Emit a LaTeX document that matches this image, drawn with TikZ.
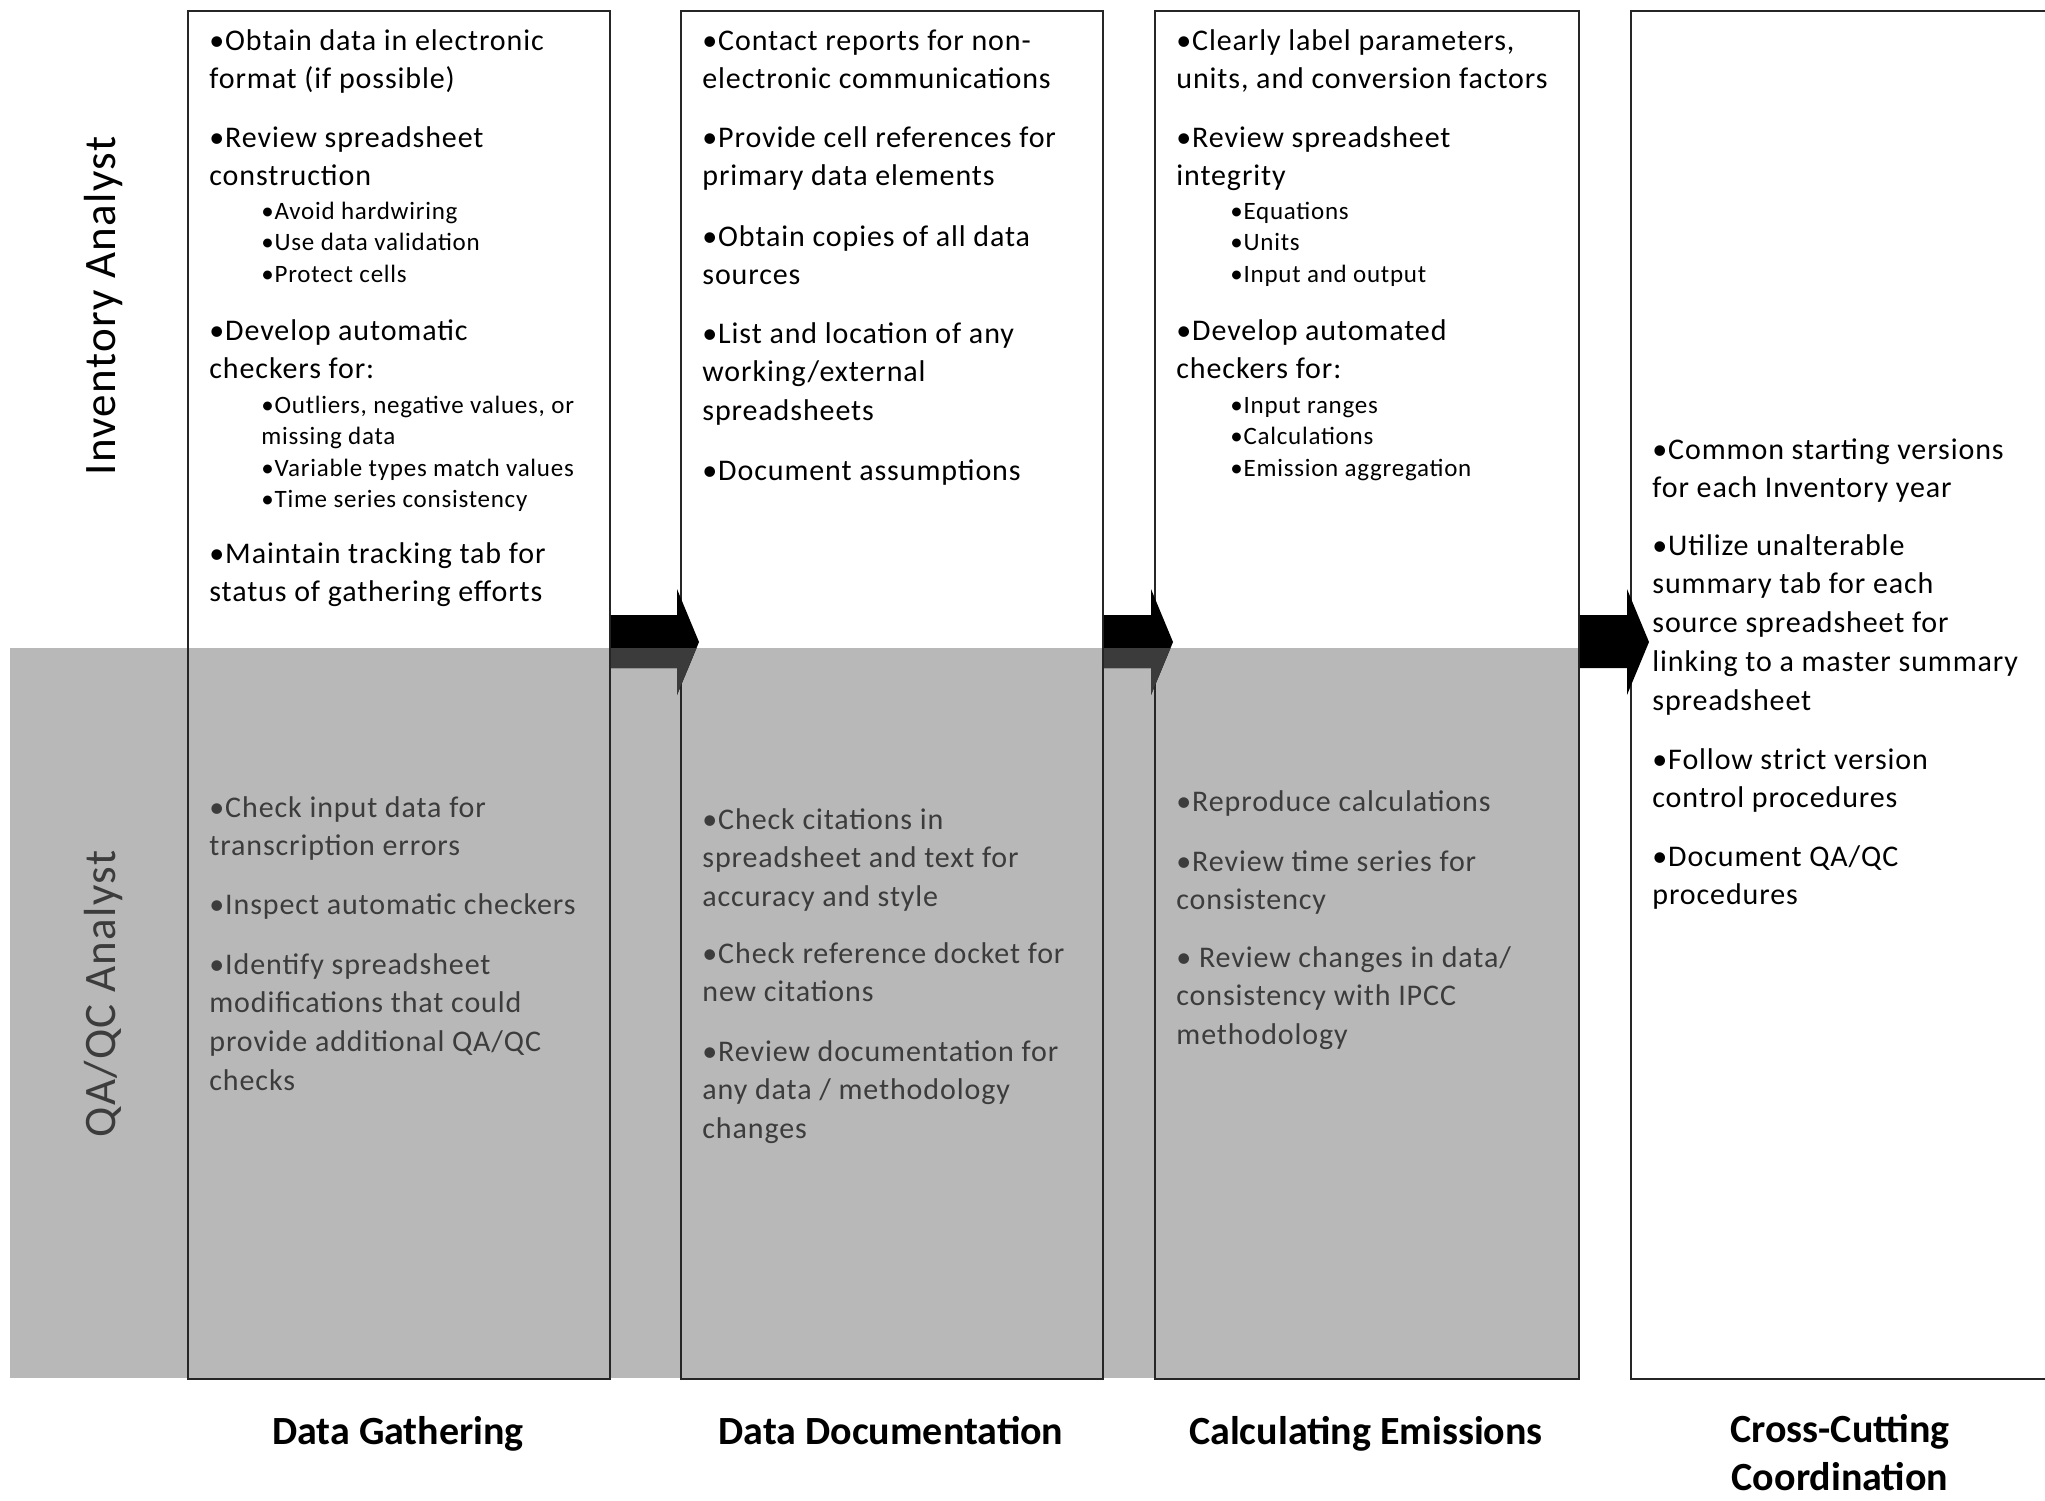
\documentclass[tikz,border=0pt]{standalone}
\usepackage{fontspec}
\setmainfont{Carlito}
\newfontfamily\bodyfont{Carlito}[LetterSpace=3.0]
\usetikzlibrary{calc}
\definecolor{band}{HTML}{B8B8B8}
\definecolor{dtext}{HTML}{3C3C3C}
\definecolor{darr}{HTML}{3B3B3B}
\newcommand\mylines[1]{\parbox[t]{12cm}{\raggedright #1}}
\tikzset{
  itm/.style={anchor=base west, inner sep=0pt, yshift=-1pt, font=\bodyfont\fontsize{15}{19.4}\selectfont},
  subitm/.style={anchor=base west, inner sep=0pt, yshift=-1pt, font=\bodyfont\fontsize{12.5}{15.8}\selectfont},
  lowtxt/.style={text=dtext},
  colbox/.style={draw=black!85, line width=0.9pt, anchor=north west, inner sep=0pt, minimum height=684pt},
  phase/.style={anchor=base, inner sep=0pt, font=\fontsize{20}{24}\selectfont\bfseries},
  role/.style={rotate=90, inner sep=0pt, font=\bodyfont\fontsize{22.5}{26}\selectfont},
}
\begin{document}
\begin{tikzpicture}[x=0.5pt,y=-0.5pt]
\useasboundingbox (0,0) rectangle (2045,1500);
\fill[white] (0,0) rectangle (2045,1500);
% gray band
\fill[band] (10,648) rectangle (1578,1378);
% boxes
\node[colbox, minimum width=211pt] (b1) at (187,10) {};
\node[colbox, minimum width=211pt] (b2) at (680,10) {};
\node[colbox, minimum width=212pt] (b3) at (1154,10) {};
\node[colbox, minimum width=215pt, fill=white] (b4) at (1630,10) {};
% block arrows
\newcommand\blockarrow[2]{%
  \fill (#1.east |- 0,615) -- ([xshift=-1.5pt]#2.west |- 0,615) -- ([xshift=-1.5pt]#2.west |- 0,589)
    -- ([xshift=9.5pt]#2.west |- 0,642) -- ([xshift=-1.5pt]#2.west |- 0,695)
    -- ([xshift=-1.5pt]#2.west |- 0,668) -- (#1.east |- 0,668) -- cycle;}
\blockarrow{b1}{b2}
\blockarrow{b2}{b3}
\blockarrow{b3}{b4}
\begin{scope}
  \clip (10,648) rectangle (1578,1378);
  \begin{scope}[darr]
  \blockarrow{b1}{b2}
  \blockarrow{b2}{b3}
  \end{scope}
\end{scope}
% role labels
\node[role] (r1) at (104,306) {Inventory Analyst};
\node[role, text=dtext] (r2) at (104,994) {QA/QC Analyst};
% box 1 top
\node[itm] (t11) at (209,48) {\mylines{•Obtain data in electronic\\format (if possible)}};
\node[itm] (t12) at (209,145) {\mylines{•Review spreadsheet\\construction}};
\node[subitm] (t13) at (261,217) {\mylines{•Avoid hardwiring\\•Use data validation\\•Protect cells}};
\node[itm] (t14) at (209,338) {\mylines{•Develop automatic\\checkers for:}};
\node[subitm] (t15) at (261,411) {\mylines{•Outliers, negative values, or\\missing data\\•Variable types match values\\•Time series consistency}};
\node[itm] (t16) at (209,561) {\mylines{•Maintain tracking tab for\\status of gathering efforts}};
% box 1 bottom
\node[itm, lowtxt] (l11) at (209,815) {\mylines{•Check input data for\\transcription errors}};
\node[itm, lowtxt] (l12) at (209,912) {\mylines{•Inspect automatic checkers}};
\node[itm, lowtxt] (l13) at (209,972) {\mylines{•Identify spreadsheet\\modifications that could\\provide additional QA/QC\\checks}};
% box 2 top
\node[itm] (t21) at (702,48) {\mylines{•Contact reports for non-\\electronic communications}};
\node[itm] (t22) at (702,145) {\mylines{•Provide cell references for\\primary data elements}};
\node[itm] (t23) at (702,244) {\mylines{•Obtain copies of all data\\sources}};
\node[itm] (t24) at (702,341) {\mylines{•List and location of any\\working/external\\spreadsheets}};
\node[itm] (t25) at (702,478) {\mylines{•Document assumptions}};
% box 2 bottom
\node[itm, lowtxt] (l21) at (702,827) {\mylines{•Check citations in\\spreadsheet and text for\\accuracy and style}};
\node[itm, lowtxt] (l22) at (702,961) {\mylines{•Check reference docket for\\new citations}};
\node[itm, lowtxt] (l23) at (702,1059) {\mylines{•Review documentation for\\any data / methodology\\changes}};
% box 3 top
\node[itm] (t31) at (1176,48) {\mylines{•Clearly label parameters,\\units, and conversion factors}};
\node[itm] (t32) at (1176,145) {\mylines{•Review spreadsheet\\integrity}};
\node[subitm] (t33) at (1230,217) {\mylines{•Equations\\•Units\\•Input and output}};
\node[itm] (t34) at (1176,338) {\mylines{•Develop automated\\checkers for:}};
\node[subitm] (t35) at (1230,411) {\mylines{•Input ranges\\•Calculations\\•Emission aggregation}};
% box 3 bottom
\node[itm, lowtxt] (l31) at (1176,809) {\mylines{•Reproduce calculations}};
\node[itm, lowtxt] (l32) at (1176,869) {\mylines{•Review time series for\\consistency}};
\node[itm, lowtxt] (l33) at (1176,965) {\mylines{• Review changes in data/\\consistency with IPCC\\methodology}};
% box 4
\node[itm] (t41) at (1652,457) {\mylines{•Common starting versions\\for each Inventory year}};
\node[itm] (t42) at (1652,553) {\mylines{•Utilize unalterable\\summary tab for each\\source spreadsheet for\\linking to a master summary\\spreadsheet}};
\node[itm] (t43) at (1652,767) {\mylines{•Follow strict version\\control procedures}};
\node[itm] (t44) at (1652,864) {\mylines{•Document QA/QC\\procedures}};
% phase labels
\node[phase] (p1) at (398,1444) {Data Gathering};
\node[phase] (p2) at (891,1444) {Data Documentation};
\node[phase] (p3) at (1366,1444) {Calculating Emissions};
\node[phase] (p4) at (1840,1442) {\parbox[t]{6cm}{\centering Cross-Cutting\\Coordination}};
\end{tikzpicture}
\end{document}
